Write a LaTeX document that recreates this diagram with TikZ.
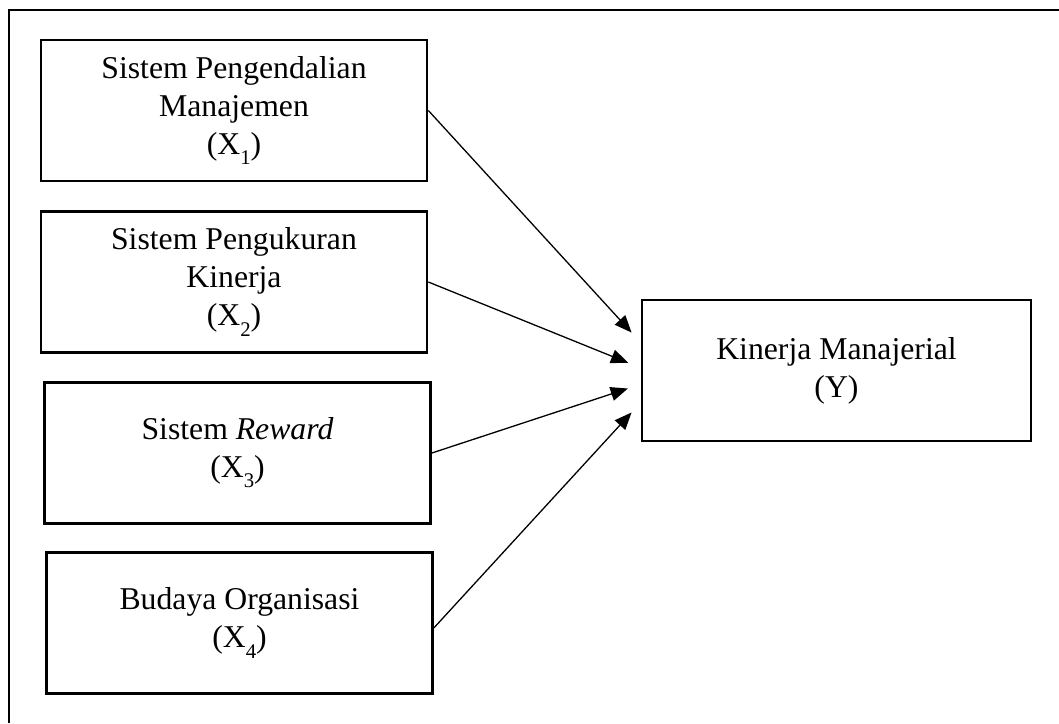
\documentclass[tikz,border=0pt]{standalone}
\usepackage{fontspec}
\setmainfont{Liberation Serif}
\usepackage{tikz}
\usetikzlibrary{arrows.meta,calc,positioning}

% lowered index as in (X1)
\newcommand{\varsub}[1]{\raisebox{-0.32em}{\footnotesize #1}}

\tikzset{
  varbox/.style={draw,line width=1pt,inner sep=0pt,align=center,
    minimum width=148.5pt,minimum height=54.2pt,
    font=\fontsize{12.2pt}{14.6pt}\selectfont},
  link/.style={line width=0.5pt,-{Triangle[length=6.6pt,width=5.4pt]},shorten >=5.2pt}
}

\begin{document}
\begin{tikzpicture}[x=0.3846pt,y=-0.3846pt]
  \useasboundingbox (0,0) rectangle (1059,723);

  % frame round the model
  \draw[line width=0.8pt] (9,723) -- (9,10) -- (1059,10);

  % the independent variables
  \node[varbox] (var1) at (234,110.5) {Sistem Pengendalian\\Manajemen\\(X\varsub{1})};
  \node[varbox] (var2) at (234,282) {Sistem Pengukuran\\Kinerja\\(X\varsub{2})};
  \node[varbox] (var3) at (237.5,453) {Sistem \textit{Reward}\\(X\varsub{3})};
  \node[varbox] (var4) at (239.5,623) {Budaya Organisasi\\(X\varsub{4})};

  % the dependent variable
  \node[varbox,minimum width=149.6pt] (res1) at (836.5,370.5) {Kinerja Manajerial\\(Y)};

  % arrows from every X to Y
  \draw[link] (var1.east) -- ($(res1.north west)!0.305!(res1.south west)$);
  \draw[link] (var2.east) -- ($(res1.north west)!0.482!(res1.south west)$);
  \draw[link] (var3.east) -- ($(res1.north west)!0.596!(res1.south west)$);
  \draw[link] ([yshift=-1.9pt]var4.east) -- ($(res1.north west)!0.723!(res1.south west)$);
\end{tikzpicture}
\end{document}
